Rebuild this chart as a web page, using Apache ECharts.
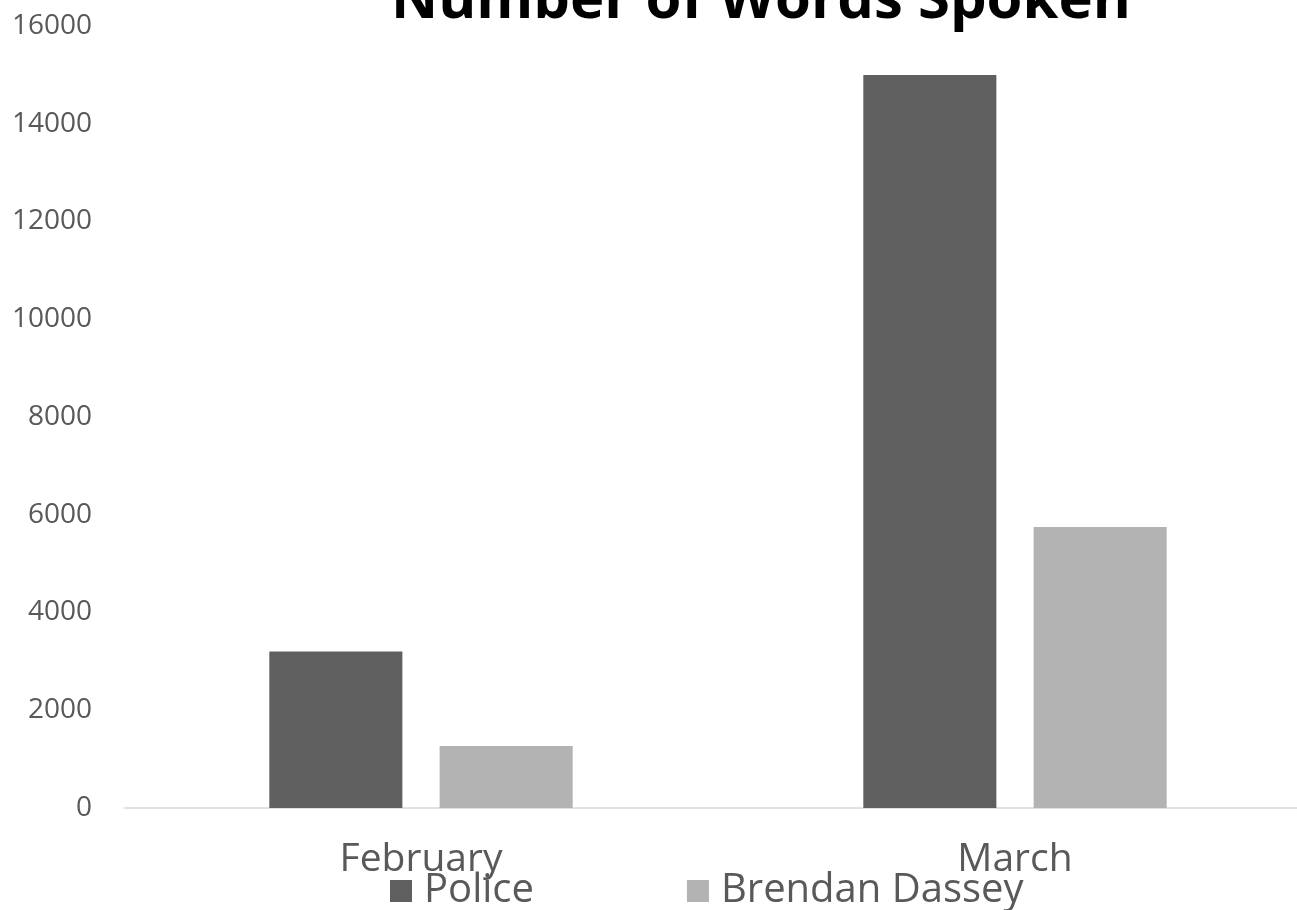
<!DOCTYPE html>
<html>
<head>
<meta charset="utf-8">
<script src="https://cdn.jsdelivr.net/npm/echarts@6/dist/echarts.min.js"></script>
<style>html,body{margin:0;padding:0;background:#fff}#c{width:1297px;height:910px}</style>
</head>
<body>
<div id="c"></div>
<script>
var categories = ['February', 'March'];
var seriesNames = ['Police', 'Brendan Dassey'];
var policeValues = [3200, 15000];
var dasseyValues = [1270, 5750];
var yTicks = [0, 2000, 4000, 6000, 8000, 10000, 12000, 14000, 16000];

var chart = echarts.init(document.getElementById('c'));
var font = '"Open Sans", sans-serif';
chart.setOption({
  animation: false,
  title: {
    text: 'Number of Words Spoken',
    left: 386,
    top: -33,
    textStyle: { fontFamily: font, fontWeight: 'bold', fontSize: 58, color: '#000' }
  },
  legend: {
    data: seriesNames,
    top: 866,
    left: 385,
    itemWidth: 22,
    itemHeight: 22,
    itemGap: 153,
    icon: 'rect',
    textStyle: { fontFamily: font, fontSize: 40, color: '#595959', padding: [0, 0, 0, 7] }
  },
  grid: { left: 124, width: 1188, top: 26, bottom: 102, containLabel: false, outerBoundsMode: 'none' },
  xAxis: {
    type: 'category',
    data: categories,
    axisLine: { lineStyle: { color: '#d9d9d9', width: 1.5 } },
    axisTick: { show: false },
    axisLabel: { fontFamily: font, fontSize: 39, color: '#595959', margin: 32 }
  },
  yAxis: {
    type: 'value',
    min: yTicks[0],
    max: yTicks[yTicks.length - 1],
    interval: 2000,
    splitLine: { show: false },
    axisLine: { show: false },
    axisTick: { show: false },
    axisLabel: { fontFamily: font, fontSize: 28, color: '#595959', margin: 32, formatter: function (v) { return String(v); } }
  },
  series: [
    { name: seriesNames[0], type: 'bar', data: policeValues, barWidth: '22.4%', barGap: '28%', itemStyle: { color: '#5f5f5f' } },
    { name: seriesNames[1], type: 'bar', data: dasseyValues, barWidth: '22.4%', barGap: '28%', itemStyle: { color: '#b3b3b3' } }
  ]
});
</script>
</body>
</html>
